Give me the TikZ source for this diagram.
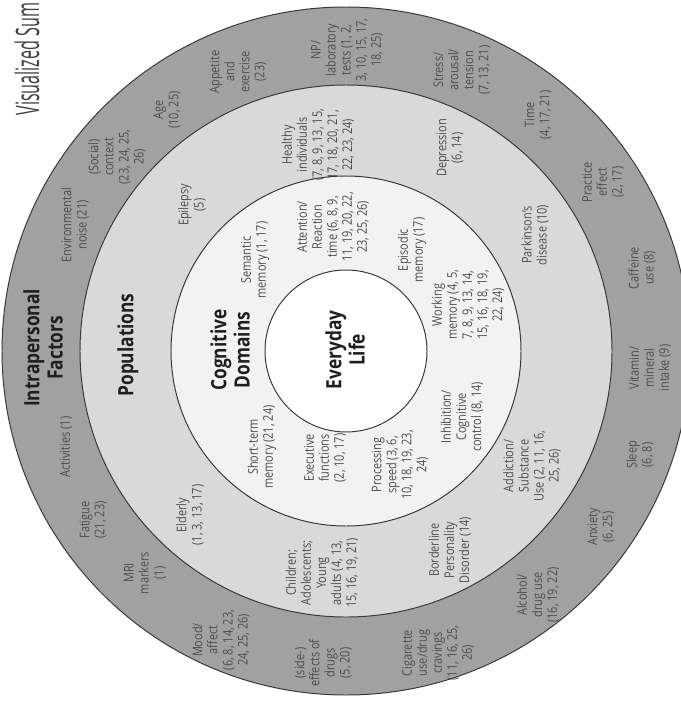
\documentclass[tikz,border=0pt]{standalone}
\usepackage{fontspec}
\usepackage{tikz}
\setmainfont{Open Sans}[FakeStretch=0.82]
\newfontfamily\titlefont{Open Sans}[FakeStretch=0.5]
\usetikzlibrary{positioning}
\definecolor{ringdark}{gray}{0.63}
\definecolor{ringmid}{gray}{0.85}
\definecolor{ringlight}{gray}{0.95}
\definecolor{mtext}{gray}{0.30}
\definecolor{mhead}{gray}{0.12}
\definecolor{medge}{gray}{0.22}
\tikzset{lbl/.style = {rotate=90, align=center, inner sep=0pt, text=mtext,
                       font=\fontsize{9.5}{10.7}\selectfont},
         head/.style = {rotate=90, align=center, inner sep=0pt, text=mhead,
                        font=\fontsize{15}{16.5}\selectfont\bfseries},
         ring/.style = {draw=medge, line width=0.7pt}}

\begin{document}
\begin{tikzpicture}[x=0.025cm, y=-0.025cm]
    \useasboundingbox (0, 0) rectangle (681, 704);
    \coordinate (c) at (346, 351);
    \draw [ring, fill=ringdark] (c) circle [radius=344];
    \draw [ring, fill=ringmid] (c) circle [radius=266];
    \draw [ring, fill=ringlight] (c) circle [radius=175];
    \draw [ring, fill=white] (c) circle [radius=81];

    \node [rotate=90, inner sep=0pt, text=black!75,
           font=\titlefont\fontsize{23}{25}\selectfont] (title) at (27, 59) {Visualized Sum};

    \node [head] (intra) at (43, 348) {Intrapersonal\\Factors};
    \node [lbl] (activ) at (66, 447) {Activities (1)};
    \node [lbl] (envir) at (75, 225) {Environmental\\noise (21)};
    \node [lbl] (social) at (117, 157) {(Social)\\context\\(23, 24, 25,\\26)};
    \node [lbl] (age) at (167, 110) {Age\\(10, 25)};
    \node [lbl] (appet) at (238, 72) {Appetite\\and\\exercise\\(23)};
    \node [lbl] (nplab) at (347, 50) {NP/\\laboratory\\tests (1, 2,\\3, 10, 15, 17,\\18, 25)};
    \node [lbl] (stress) at (462, 70) {Stress/\\arousal/\\tension\\(7, 13, 21)};
    \node [lbl] (time) at (538, 115) {Time\\(4, 17, 21)};
    \node [lbl] (practice) at (603, 182) {Practice\\effect\\(2, 17)};
    \node [lbl] (caffeine) at (642, 268) {Caffeine\\use (8)};
    \node [lbl] (vitamin) at (650, 368) {Vitamin/\\mineral\\intake (9)};
    \node [lbl] (sleep) at (640, 455) {Sleep\\(6, 8)};
    \node [lbl] (anxiety) at (601, 527) {Anxiety\\(6, 25)};
    \node [lbl] (alcohol) at (538, 595) {Alcohol/\\drug use\\(16, 19, 22)};
    \node [lbl] (cigarette) at (438, 653) {Cigarette\\use/drug\\cravings\\(11, 16, 25,\\26)};
    \node [lbl] (sidefx) at (323, 663) {(side-)\\effects of\\drugs\\(5, 20)};
    \node [lbl] (mood) at (221, 640) {Mood/\\affect\\(6, 8, 14, 23,\\24, 25, 26)};
    \node [lbl] (mri) at (145, 573) {MRI\\markers\\(1)};
    \node [lbl] (fatigue) at (93, 520) {Fatigue\\(21, 23)};

    \node [head] (popul) at (128, 345) {Populations};
    \node [lbl] (epilepsy) at (192, 205) {Epilepsy\\(5)};
    \node [lbl] (healthy) at (318, 145) {Healthy\\individuals\\(7, 8, 9, 13, 15,\\17, 18, 20, 21,\\22, 23, 24)};
    \node [lbl] (depress) at (450, 148) {Depression\\(6, 14)};
    \node [lbl] (parkinson) at (535, 235) {Parkinson's\\disease (10)};
    \node [lbl] (addict) at (532, 466) {Addiction/\\Substance\\Use (2, 11, 16,\\25, 26)};
    \node [lbl] (border) at (450, 550) {Borderline\\Personality\\Disorder (14)};
    \node [lbl] (children) at (322, 573) {Children;\\Adolescents;\\Young\\adults (4, 13,\\15, 16, 19, 21)};
    \node [lbl] (elderly) at (190, 515) {Elderly\\(1, 3, 13, 17)};

    \node [head] (cogdom) at (230, 350) {Cognitive\\Domains};
    \node [lbl] (semantic) at (255, 260) {Semantic\\memory (1, 17)};
    \node [lbl] (attention) at (333, 227) {Attention/\\Reaction\\time (6, 8, 9,\\11, 19, 20, 22,\\23, 25, 26)};
    \node [lbl] (episodic) at (412, 250) {Episodic\\memory (17)};
    \node [lbl] (working) at (468, 305) {Working\\memory (4, 5,\\7, 8, 9, 13, 14,\\15, 16, 18, 19,\\22, 24)};
    \node [lbl] (inhibit) at (462, 417) {Inhibition/\\Cognitive\\control (8, 14)};
    \node [lbl] (process) at (400, 465) {Processing\\speed (3, 6,\\10, 18, 19, 23,\\24)};
    \node [lbl] (executive) at (325, 458) {Executive\\functions\\(2, 10, 17)};
    \node [lbl] (shortterm) at (262, 447) {Short-term\\memory (21, 24)};

    \node [head] (everyday) at (345, 350) {Everyday\\Life};
  \end{tikzpicture}
\end{document}
